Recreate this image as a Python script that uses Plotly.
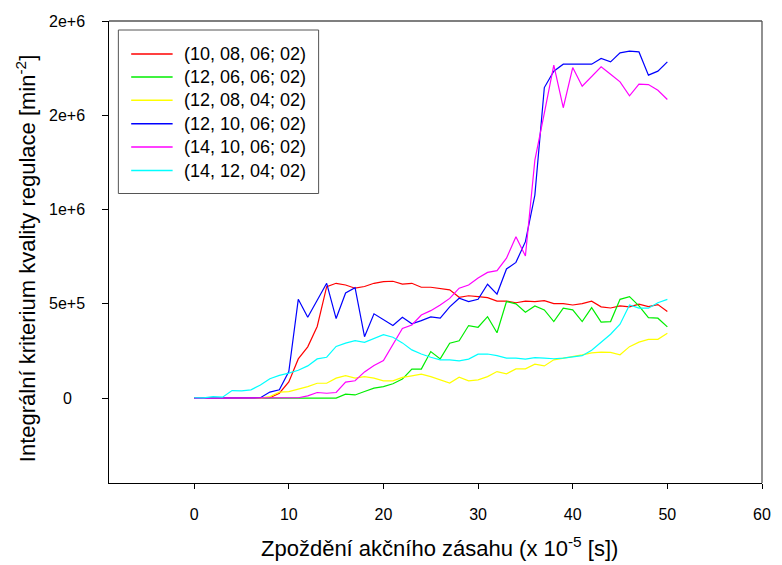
import plotly.graph_objects as go

# ---------------- data ----------------
t = list(range(0, 51))

names = ["(10, 08, 06; 02)", "(12, 06, 06; 02)", "(12, 08, 04; 02)",
         "(12, 10, 06; 02)", "(14, 10, 06; 02)", "(14, 12, 04; 02)"]
colors = ["#ff0000", "#00ee00", "#ffff00", "#0000ff", "#ff00ff", "#00ffff"]

red = [0, 0, 0, 0, 0, 0, 0, 0, 2e3, 26e3, 86e3, 208e3, 272e3, 380e3, 591e3,
       609e3, 600e3, 583e3, 592e3, 609e3, 618e3, 620e3, 605e3, 609e3, 588e3,
       588e3, 583e3, 574e3, 535e3, 543e3, 538e3, 533e3, 515e3, 515e3, 506e3,
       514e3, 512e3, 517e3, 501e3, 501e3, 494e3, 501e3, 514e3, 484e3, 478e3,
       489e3, 484e3, 498e3, 485e3, 496e3, 459e3]

green = [0, 0, 0, 0, 0, 0, 0, 0, 0, 0, 0, 0, 0, 0, 0,
         0, 21e3, 17e3, 35e3, 53e3, 61e3, 76e3, 101e3, 154e3, 154e3,
         247e3, 208e3, 291e3, 304e3, 385e3, 376e3, 432e3, 347e3, 512e3, 500e3,
         456e3, 489e3, 468e3, 406e3, 477e3, 468e3, 406e3, 480e3, 403e3, 406e3,
         524e3, 538e3, 489e3, 427e3, 424e3, 378e3]

yellow = [0, 0, 0, 0, 0, 0, 0, 0, 8e3, 32e3, 35e3, 48e3, 61e3, 79e3, 79e3,
          106e3, 119e3, 106e3, 114e3, 106e3, 92e3, 92e3, 110e3, 118e3, 127e3,
          114e3, 97e3, 80e3, 111e3, 92e3, 97e3, 114e3, 141e3, 129e3, 155e3,
          155e3, 180e3, 171e3, 203e3, 212e3, 217e3, 229e3, 240e3, 244e3, 243e3,
          230e3, 273e3, 297e3, 312e3, 312e3, 344e3]

blue = [0, 0, 0, 0, 0, 0, 0, 2e3, 32e3, 44e3, 141e3, 524e3, 429e3, 521e3, 609e3,
        422e3, 558e3, 586e3, 326e3, 447e3, 415e3, 385e3, 429e3, 394e3, 411e3,
        431e3, 424e3, 484e3, 530e3, 512e3, 524e3, 604e3, 552e3, 685e3, 720e3,
        830e3, 1077e3, 1647e3, 1734e3, 1771e3, 1771e3, 1771e3, 1771e3, 1801e3, 1783e3,
        1831e3, 1840e3, 1836e3, 1713e3, 1734e3, 1783e3]

magenta = [0, 0, 0, 0, 0, 0, 0, 0, 0, 0, 0, 2e3, 12e3, 30e3, 26e3,
           30e3, 85e3, 92e3, 139e3, 173e3, 199e3, 282e3, 369e3, 388e3, 441e3,
           464e3, 494e3, 529e3, 583e3, 600e3, 637e3, 667e3, 676e3, 742e3, 856e3,
           754e3, 1262e3, 1511e3, 1766e3, 1540e3, 1753e3, 1654e3, 1707e3, 1757e3, 1718e3,
           1677e3, 1603e3, 1665e3, 1663e3, 1633e3, 1584e3]

cyan = [2e3, 1e3, 8e3, 5e3, 40e3, 39e3, 44e3, 70e3, 103e3, 121e3, 133e3, 148e3,
        171e3, 208e3, 217e3, 274e3, 292e3, 305e3, 296e3, 315e3, 337e3, 323e3,
        293e3, 256e3, 234e3, 217e3, 203e3, 203e3, 198e3, 207e3, 233e3, 234e3,
        225e3, 212e3, 212e3, 207e3, 215e3, 212e3, 209e3, 212e3, 217e3, 225e3,
        254e3, 297e3, 339e3, 392e3, 494e3, 477e3, 477e3, 506e3, 524e3]

series = [red, green, yellow, blue, magenta, cyan]

x_ticks = [0, 10, 20, 30, 40, 50, 60]
y_tickvals = [0, 5e5, 1e6, 1.5e6, 2e6]
y_ticktext = ["0", "5e+5", "1e+6", "2e+6", "2e+6"]

x_title = "Zpoždění akčního zásahu (x 10<sup>-5</sup> [s])"
y_title = "Integrální kriterium kvality regulace [min<sup>-2</sup>]"

# ---------------- figure ----------------
FONT = "Liberation Sans, Arial, sans-serif"
W, H = 782, 565
ml, mr, mt, mb = 109, 11, 21, 82
pw = W - ml - mr
ph = H - mt - mb


def px(xp):
    return (xp - ml) / pw


def py(yp):
    return 1 - (yp - mt) / ph


fig = go.Figure()
for nm, col, ys in zip(names, colors, series):
    fig.add_trace(go.Scatter(x=t, y=ys, mode="lines", name=nm,
                             line=dict(color=col, width=1.2)))

fig.update_layout(
    width=W, height=H,
    margin=dict(l=ml, r=mr, t=mt, b=mb),
    paper_bgcolor="white", plot_bgcolor="white",
    font=dict(family=FONT, size=16, color="black"),
    showlegend=False,
    xaxis=dict(range=[-9, 60], tickvals=x_ticks, ticks="outside", ticklen=5,
               tickcolor="black", showline=True, linecolor="black", linewidth=1,
               showgrid=False, zeroline=False, ticklabelstandoff=12,
               tickfont=dict(family=FONT, size=16)),
    yaxis=dict(range=[-4.5e5, 2e6], tickvals=y_tickvals, ticks="outside", ticklen=6,
               tickcolor="black", showline=True, linecolor="black", linewidth=1,
               showgrid=False, zeroline=False, showticklabels=False),
)

# top and right frame lines
fig.add_shape(type="line", xref="paper", yref="paper", x0=0, x1=1, y0=1, y1=1,
              line=dict(color="#555", width=1.3))
fig.add_shape(type="line", xref="paper", yref="paper", x0=1, x1=1, y0=0, y1=1,
              line=dict(color="#555", width=1.3))

# y tick labels (centered, as in the original)
for v, txt in zip(y_tickvals, y_ticktext):
    fig.add_annotation(x=px(66.5), xref="paper", y=v, yref="y",
                       text=txt, showarrow=False, xanchor="center", yanchor="middle",
                       font=dict(family=FONT, size=16, color="black"))

# axis titles
fig.add_annotation(x=px(444), xref="paper", y=py(547), yref="paper",
                   text=x_title, showarrow=False, xanchor="center", yanchor="middle",
                   font=dict(family=FONT, size=22, color="black"))
fig.add_annotation(x=px(25), xref="paper", y=py(259), yref="paper",
                   text=y_title, showarrow=False, textangle=-90,
                   xanchor="center", yanchor="middle",
                   font=dict(family=FONT, size=22, color="black"))

# legend box (drawn like the original's boxed key)
fig.add_shape(type="rect", xref="paper", yref="paper",
              x0=px(118.5), x1=px(321.5), y0=py(193.5), y1=py(30),
              line=dict(color="#555", width=1), fillcolor="white", layer="above")
row_y = [54, 77, 100.3, 123.7, 147, 170.5]
for nm, col, ry in zip(names, colors, row_y):
    fig.add_shape(type="line", xref="paper", yref="paper",
                  x0=px(131.5), x1=px(173.5), y0=py(ry), y1=py(ry),
                  line=dict(color=col, width=1.4), layer="above")
    fig.add_annotation(x=px(183), xref="paper", y=py(ry), yref="paper",
                       text=nm, showarrow=False, xanchor="left", yanchor="middle",
                       font=dict(family=FONT, size=18, color="black"))

fig.write_html("out.html")
